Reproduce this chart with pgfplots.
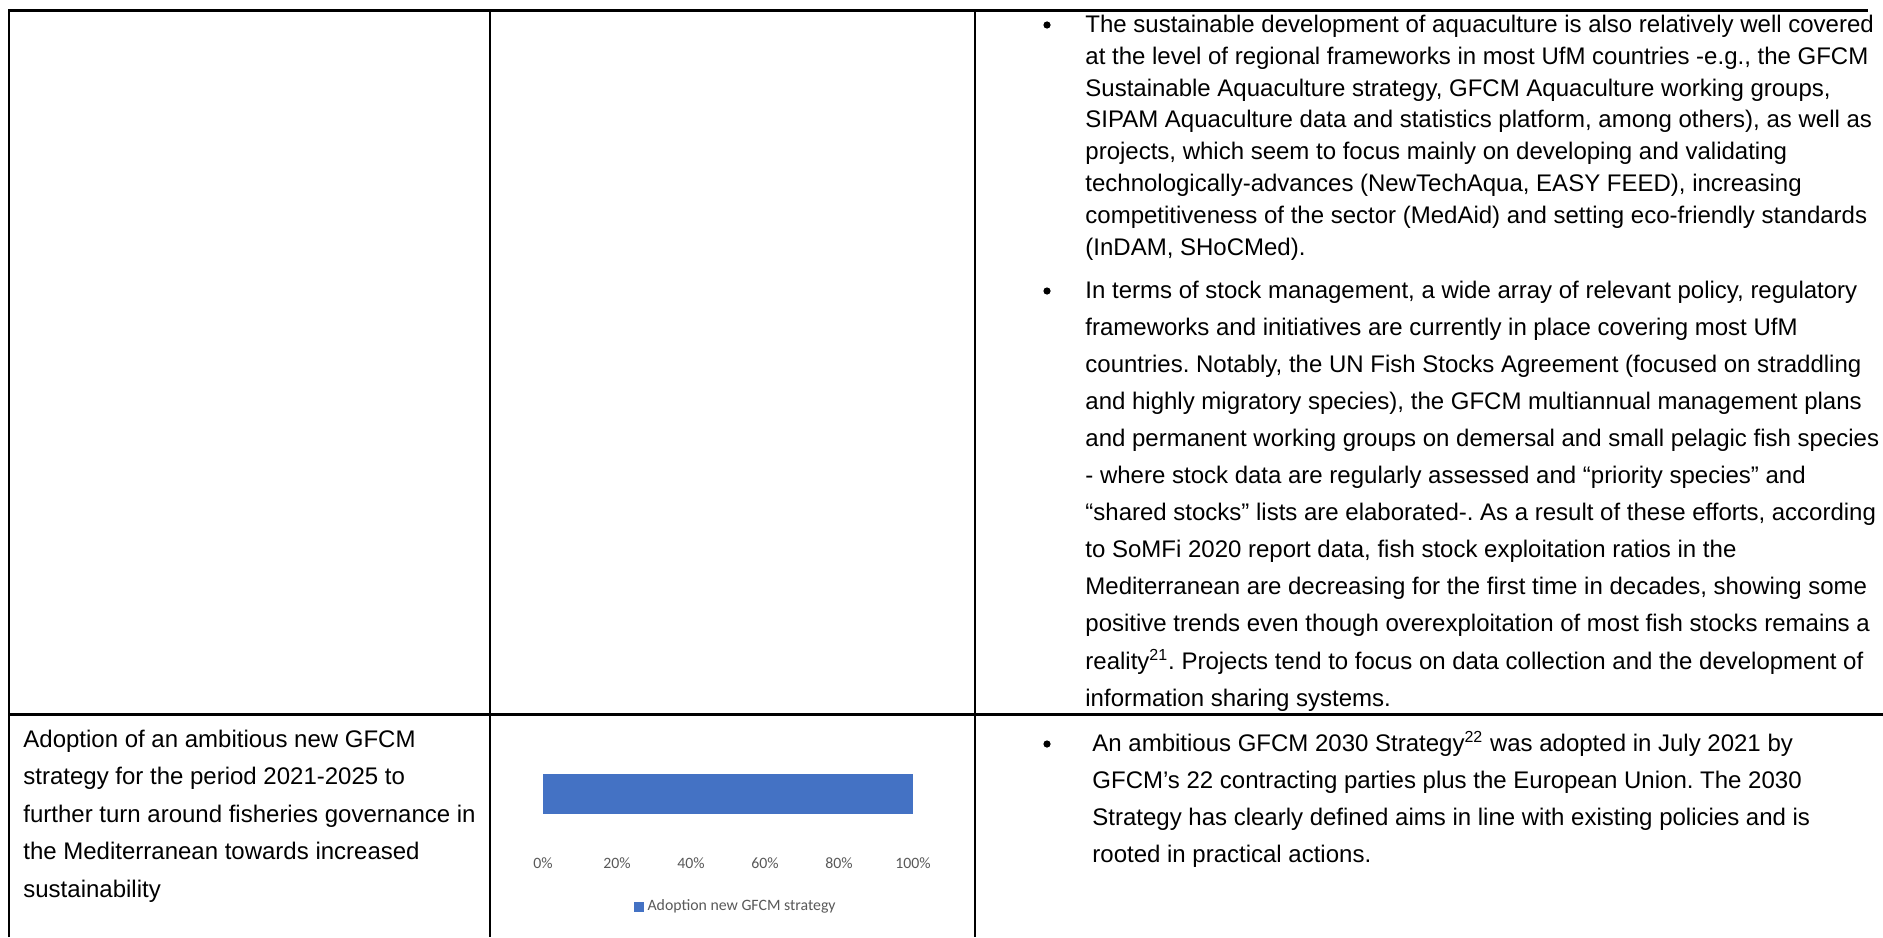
\documentclass[border=0pt]{standalone}
\usepackage{pgfplots}
\pgfplotsset{compat=1.18}
\usepackage{fontspec}
\setmainfont{Liberation Sans}
\newfontfamily\chartfont{Carlito}
\definecolor{barblue}{HTML}{4472C4}
\definecolor{axgray}{HTML}{595959}
\frenchspacing
\begin{document}
\begin{tikzpicture}
\begin{scope}[x=0.5pt,y=-0.5pt,
  txt/.style={anchor=base west, inner sep=0pt, font=\fontsize{12}{14}\selectfont}]
\useasboundingbox (0,0) rectangle (1883,937);
% table rules
\draw[line width=1.1pt] (9,937) -- (9,10.5) -- (1868,10.5);
\draw[line width=1.1pt] (490,10.5) -- (490,937);
\draw[line width=1.1pt] (975,10.5) -- (975,937);
\draw[line width=1.1pt] (9,714.5) -- (1883,714.5);
% left column
\node[txt] at (23,747) {Adoption of an ambitious new GFCM};
\node[txt] at (23,784.5) {strategy for the period 2021-2025 to};
\node[txt] at (23,822) {further turn around fisheries governance in};
\node[txt] at (23,859.5) {the Mediterranean towards increased};
\node[txt] at (23,897) {sustainability};
% bullets
\fill (1047,25) circle (3.6);
\fill (1047,291) circle (3.6);
\fill (1047,744) circle (3.6);
% bullet 1
\node[txt] at (1085,32.5) {The sustainable development of aquaculture is also relatively well covered};
\node[txt] at (1085,64.3) {at the level of regional frameworks in most UfM countries -e.g., the GFCM};
\node[txt] at (1085,96.1) {Sustainable Aquaculture strategy, GFCM Aquaculture working groups,};
\node[txt] at (1085,127.9) {SIPAM Aquaculture data and statistics platform, among others), as well as};
\node[txt] at (1085,159.7) {projects, which seem to focus mainly on developing and validating};
\node[txt] at (1085,191.5) {technologically-advances (NewTechAqua, EASY FEED), increasing};
\node[txt] at (1085,223.3) {competitiveness of the sector (MedAid) and setting eco-friendly standards};
\node[txt] at (1085,255.1) {(InDAM, SHoCMed).};
% bullet 2
\node[txt] at (1085,298.0) {In terms of stock management, a wide array of relevant policy, regulatory};
\node[txt] at (1085,335.1) {frameworks and initiatives are currently in place covering most UfM};
\node[txt] at (1085,372.2) {countries. Notably, the UN Fish Stocks Agreement (focused on straddling};
\node[txt] at (1085,409.3) {and highly migratory species), the GFCM multiannual management plans};
\node[txt] at (1085,446.4) {and permanent working groups on demersal and small pelagic fish species};
\node[txt] at (1085,483.5) {- where stock data are regularly assessed and “priority species” and};
\node[txt] at (1085,520.6) {“shared stocks” lists are elaborated-. As a result of these efforts, according};
\node[txt] at (1085,557.7) {to SoMFi 2020 report data, fish stock exploitation ratios in the};
\node[txt] at (1085,594.8) {Mediterranean are decreasing for the first time in decades, showing some};
\node[txt] at (1085,631.9) {positive trends even though overexploitation of most fish stocks remains a};
\node[txt] at (1085,669.0) {reality\textsuperscript{21}. Projects tend to focus on data collection and the development of};
\node[txt] at (1085,706.1) {information sharing systems.};
% bullet 3
\node[txt] at (1092,751) {An ambitious GFCM 2030 Strategy\textsuperscript{22} was adopted in July 2021 by};
\node[txt] at (1092,788.3) {GFCM’s 22 contracting parties plus the European Union. The 2030};
\node[txt] at (1092,825.6) {Strategy has clearly defined aims in line with existing policies and is};
\node[txt] at (1092,862.9) {rooted in practical actions.};
\end{scope}
\begin{axis}[
  at={(271.5pt,-431.5pt)}, anchor=south west,
  scale only axis, width=185pt, height=69pt,
  xmin=0, xmax=100, ymin=-0.5, ymax=0.5,
  axis line style={draw=none},
  major tick length=0pt,
  ytick=\empty,
  xtick={0,20,40,60,80,100},
  xticklabels={0\%,20\%,40\%,60\%,80\%,100\%},
  xticklabel style={anchor=center, text=axgray, font=\chartfont\fontsize{7.9}{9}\selectfont, inner sep=0pt},
  legend style={at={(0.2459,-0.3188)}, anchor=west, draw=none, fill=none, inner sep=0pt,
    font=\chartfont\fontsize{7.9}{9}\selectfont, text=axgray,
    nodes={inner sep=2pt}},
  legend image code/.code={\fill[barblue] (0pt,-2.3pt) rectangle (4.6pt,2.3pt);},
]
\addplot[xbar, bar width=20pt, fill=barblue, draw=none] coordinates {(100,0)};
\addlegendentry{Adoption new GFCM strategy}
\end{axis}
\end{tikzpicture}
\end{document}
